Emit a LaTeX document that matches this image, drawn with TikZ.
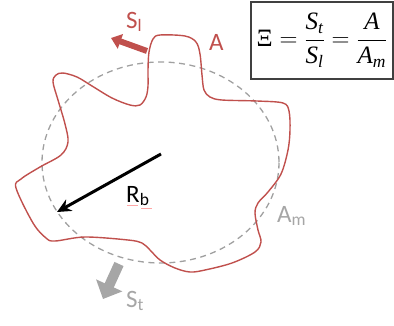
\documentclass[tikz,border=0pt]{standalone}
\usepackage{amsmath}
\usepackage{fontspec}
\setmainfont{Carlito}
\newfontfamily\tnr{Liberation Serif}
\usetikzlibrary{arrows.meta}
\definecolor{cred}{RGB}{192,80,77}
\definecolor{cgray}{RGB}{166,166,166}
\definecolor{dgray}{RGB}{160,160,160}
\tikzset{
  lbl/.style={inner sep=0pt, anchor=base west, font=\fontsize{25}{27}\selectfont},
  redcurve/.style={draw=cred, line width=1.4pt},
  dashcirc/.style={draw=dgray, line width=1.3pt, dash pattern=on 6pt off 4.5pt},
}
\newcommand{\ti}[1]{\text{\tnr\itshape #1}}
\begin{document}
\begin{tikzpicture}[x=1pt,y=-1pt]
\useasboundingbox (0,0) rectangle (394,325);
% dashed mean circle
\coordinate (c) at (161,154);
\draw[dashcirc] (160.5,162.5) ellipse [x radius=118.5, y radius=100.5];
% wavy boundary
\draw[redcurve] plot[smooth cycle, tension=0.55] coordinates {
(148,70) (149,52) (153,39) (160,35) (185,36) (196,42) (200,54) (202,75) (204,90)
(210,97) (222,100) (257,101) (283,103) (289,111) (290,130) (288,150) (281,174)
(268,192) (258,203) (255,213) (258,230) (261,242) (255,252) (232,263) (205,270)
(190,272) (175,268) (160,260) (150,250) (142,243) (128,240) (85,237) (55,241)
(46,238) (33,223) (16,188) (21,179) (40,167) (61,155) (68,142) (65,124) (58,100)
(53,82) (56,75) (63,73) (77,77) (92,86) (112,98) (130,105) (140,105) (146,97) (148,86)};
% radius arrow
\coordinate (rb) at (57,212);
\draw[line width=3pt, -{Stealth[length=14pt,width=13pt]}] (c) -- (rb);
\node[lbl] (rblabel) at (126,202) {R\textsubscript{b}};
\draw[red!35, line width=0.6pt] (127,205) -- (138,205) (141,208) -- (152,208);
% S_l arrow
\coordinate (sltail) at (147,51);
\coordinate (sltip) at (111,38);
\draw[cred, line width=6pt, -{Triangle[length=10pt,width=15pt]}] (sltail) -- (sltip);
\node[lbl, text=cred] (sl) at (126,28) {S\textsubscript{l}};
\node[lbl, text=cred] (alabel) at (209,50) {A};
% S_t arrow
\coordinate (sttail) at (119,264);
\coordinate (sttip) at (103,299);
\draw[cgray, line width=10pt, -{Triangle[length=15pt,width=28pt]}] (sttail) -- (sttip);
\node[lbl, text=cgray] (st) at (126,307) {S\textsubscript{t}};
\node[lbl, text=cgray] (am) at (277,222) {A\textsubscript{m}};
% formula box
\node[draw=black!75, line width=1.2pt, minimum width=142pt, minimum height=77pt, inner sep=0pt,
      font=\fontsize{25}{28}\selectfont] (formula) at (322,40.5)
  {$\displaystyle \text{\tnr Ξ} = \frac{\ti{S}_{\ti{t}}}{\ti{S}_{\ti{l}}} = \frac{\ti{A}}{\ti{A}_{\ti{m}}}$};
\end{tikzpicture}
\end{document}
